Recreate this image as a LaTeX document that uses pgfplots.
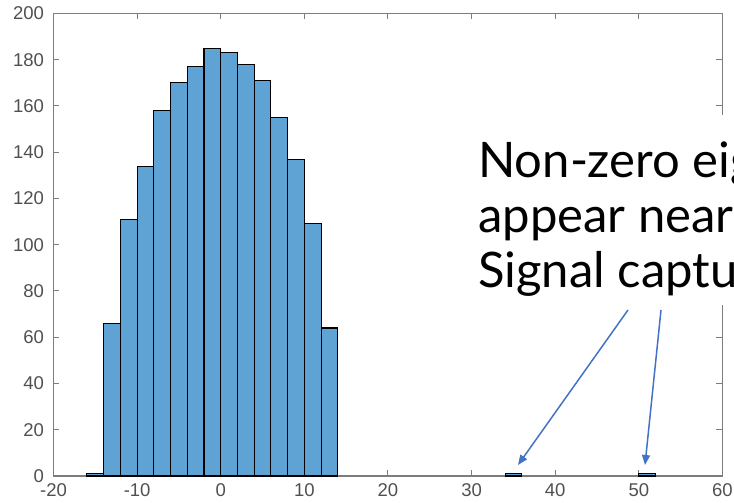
\documentclass[border=0pt]{standalone}
\usepackage{pgfplots}
\pgfplotsset{compat=1.18}
\usetikzlibrary{arrows.meta}
\usepackage{fontspec}
\setmainfont{Liberation Sans}
\newfontfamily\annfont{Lato}
\definecolor{barblue}{RGB}{95,163,213}
\definecolor{axgray}{RGB}{125,125,125}
\definecolor{ticklab}{RGB}{80,80,80}
\definecolor{arrowblue}{RGB}{68,114,196}
\begin{document}
\begin{tikzpicture}
\begin{axis}[
  anchor=south west, at={(0pt,0pt)},
  scale only axis, width=669pt, height=462.5pt,
  xmin=-20, xmax=60, ymin=0, ymax=200,
  xtick={-20,-10,...,60}, ytick={0,20,...,200},
  axis line style={axgray, line width=1.2pt},
  tick style={axgray, line width=1pt},
  major tick length=6pt,
  tick align=inside,
  ticklabel style={font=\fontsize{18.5}{20}\selectfont, text=ticklab},
  yticklabel style={xshift=-6pt},
  xticklabel style={yshift=-4pt},
  /pgf/number format/assume math mode=true,
  clip=false,
]
\addplot[ybar, bar width=2, bar shift=0pt, fill=barblue, draw=black, line width=1.1pt] coordinates {
  (-15,1) (-13,66) (-11,111) (-9,134) (-7,158) (-5,170) (-3,177) (-1,185)
  (1,183) (3,178) (5,171) (7,155) (9,137) (11,109) (13,64)
  (35,1) (51,1)
};
\end{axis}
\fill[white] (416pt,171pt) rectangle (700pt,361pt);
\node[anchor=base west, inner sep=0pt, font=\annfont\fontsize{49}{55}\selectfont] at (424.5pt,298pt) {Non-zero eigenvalues};
\node[anchor=base west, inner sep=0pt, font=\annfont\fontsize{49}{55}\selectfont] at (424.5pt,243pt) {appear near};
\node[anchor=base west, inner sep=0pt, font=\annfont\fontsize{49}{55}\selectfont] at (424.5pt,188pt) {Signal captured};
\draw[arrowblue, line width=1.5pt, -{Triangle[length=10pt,width=8pt]}] (574.5pt,166pt) -- (464.5pt,11pt);
\draw[arrowblue, line width=1.5pt, -{Triangle[length=10pt,width=8pt]}] (607.5pt,166pt) -- (591.5pt,11pt);
\pgfresetboundingbox
\path[use as bounding box] (-53.5pt,-27pt) rectangle (680.5pt,476pt);
\end{tikzpicture}
\end{document}
